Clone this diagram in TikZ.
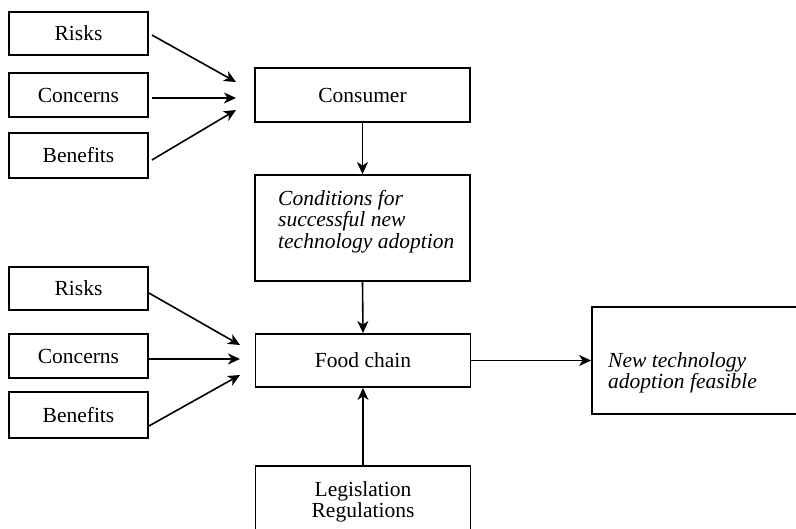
\documentclass[tikz,border=0pt]{standalone}
\usepackage{fontspec}
\setmainfont{Liberation Serif}
\usetikzlibrary{arrows.meta,calc}
\tikzset{
  box/.style={draw, line width=1.8pt, rectangle, inner sep=0pt, align=center,
    font=\fontsize{21.5}{21.5}\selectfont},
  smallbox/.style={box, minimum width=139pt, minimum height=44pt},
  bigbox/.style={box, minimum width=215pt},
  txt/.style={inner sep=0pt, align=left, anchor=west,
    font=\fontsize{21.5}{21.5}\selectfont\itshape},
  arr/.style={line width=1.6pt, -{Stealth[length=12pt,width=11pt,inset=3.5pt]}}
}
\begin{document}
\begin{tikzpicture}[x=1pt,y=-1pt]
\clip (0,0) rectangle (796,529);
\useasboundingbox (0,0) rectangle (796,529);
% top group
\node[smallbox, minimum height=43pt] (risk1) at (78.5,33.5) {Risks};
\node[smallbox] (conc1) at (78.5,95) {Concerns};
\node[smallbox, minimum height=45pt] (bene1) at (78.5,155.5) {Benefits};
\node[bigbox, minimum height=54pt] (cons) at (362.5,95) {Consumer};
\node[bigbox, minimum height=106pt] (cond) at (362.5,228) {};
\node[txt] (condtext) at (278,221.5) {Conditions for\\successful new\\technology adoption};
% bottom group
\node[smallbox, minimum height=43pt] (risk2) at (78.5,288.5) {Risks};
\node[smallbox] (conc2) at (78.5,356) {Concerns};
\node[smallbox, minimum height=46pt] (bene2) at (78.5,415) {Benefits};
\node[bigbox, minimum height=53pt] (food) at (363,360.5) {Food chain};
\node[box, minimum width=220pt, minimum height=107pt] (newt) at (702,360.5) {};
\node[txt] (newttext) at (608,373) {New technology\\adoption feasible};
\node[bigbox, minimum height=72pt] (legis) at (363,502) {Legislation\\Regulations};
% free arrow ends
\coordinate (e1) at (236,82);
\coordinate (e2) at (236,98);
\coordinate (e3) at (236,110);
\coordinate (f1) at (240,345);
\coordinate (f2) at (240,359);
\coordinate (f3) at (240,375);
% connectors
\draw[arr] ([xshift=3pt,yshift=-1.5pt]risk1.east) -- (e1);
\draw[arr] ([xshift=3pt,yshift=-3pt]conc1.east) -- (e2);
\draw[arr] ([xshift=3pt,yshift=-4.5pt]bene1.east) -- (e3);
\draw[arr] ([yshift=-4.5pt]risk2.east) -- (f1);
\draw[arr] ([yshift=-3pt]conc2.east) -- (f2);
\draw[arr] ([yshift=-11pt]bene2.east) -- (f3);
\draw[arr] (cons.south) -- (cond.north);
\draw[arr] (cond.south) -- (food.north);
\draw[arr] (legis.north) -- (food.south);
\draw[arr] (food.east) -- (newt.west);
\end{tikzpicture}
\end{document}
